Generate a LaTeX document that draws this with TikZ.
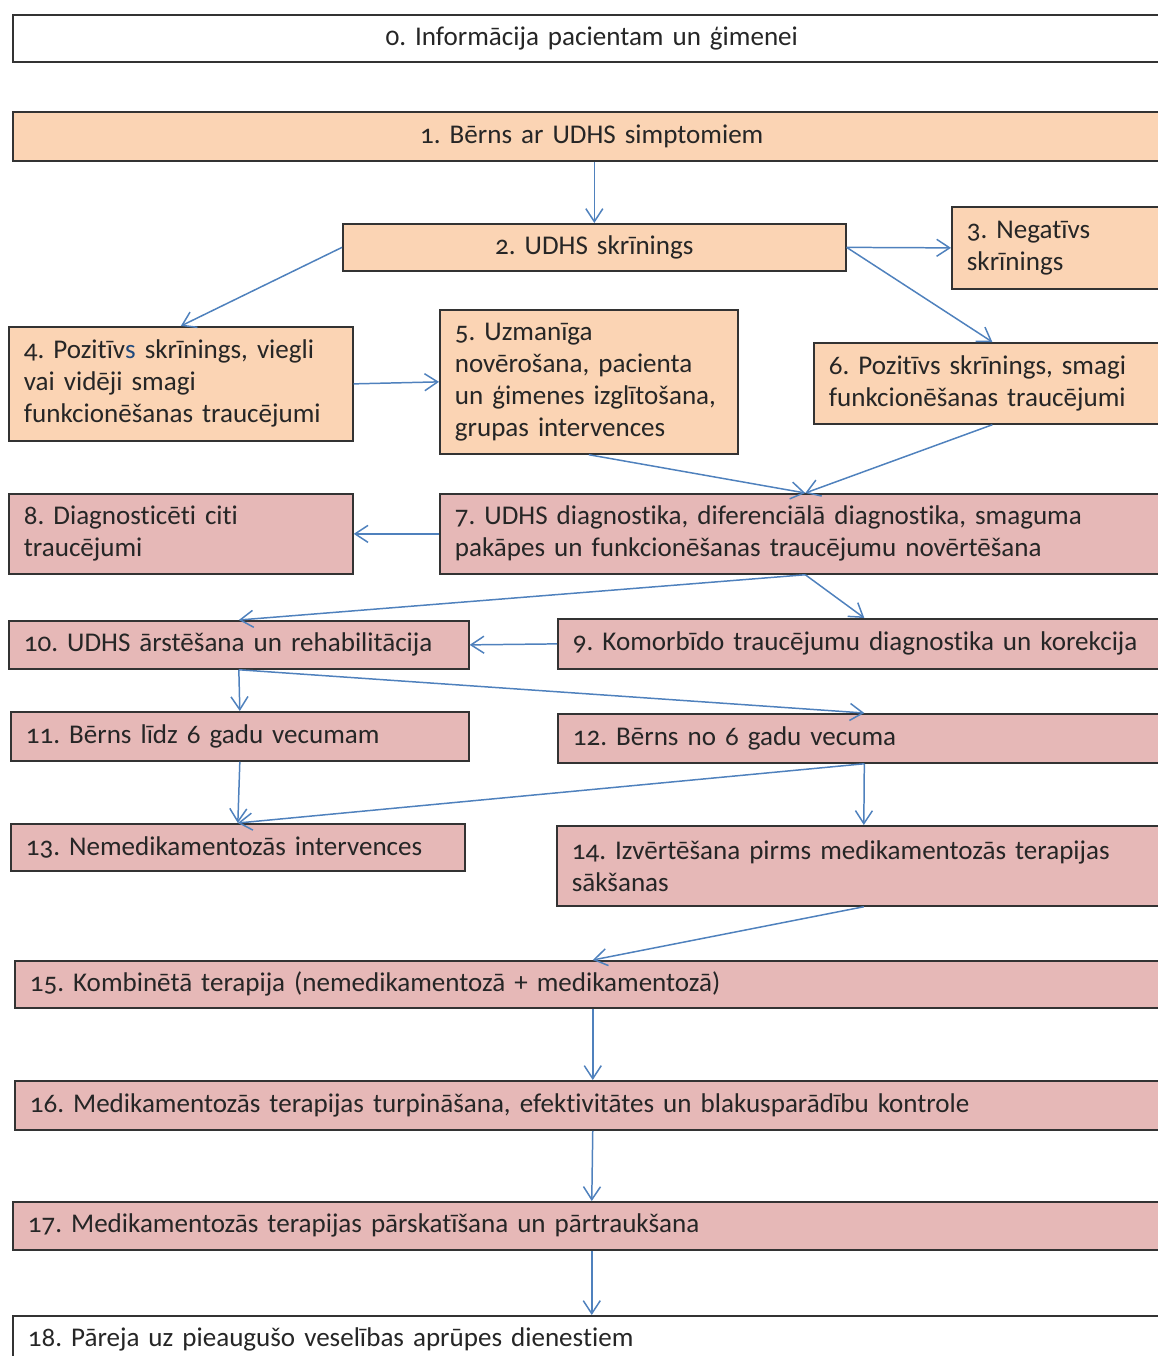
\documentclass[tikz,border=0pt]{standalone}
\usepackage{fontspec}
\setmainfont{Carlito}[Numbers=OldStyle,Ligatures=NoCommon]
\usetikzlibrary{arrows.meta}
\definecolor{peach}{HTML}{FBD4B4}
\definecolor{rose}{HTML}{E6B8B7}
\definecolor{arrblue}{HTML}{4F81BD}
\definecolor{inkblue}{HTML}{1F497D}
\frenchspacing

\begin{document}
\begin{tikzpicture}[x=0.02cm,y=-0.02cm,
  box/.style={draw=black!80,line width=1pt,anchor=north west,inner xsep=0.3cm,inner ysep=0pt,
    font=\fontsize{15.4}{18.2}\selectfont,text=black!85},
  lbox/.style={box,align=left},
  cbox/.style={box,align=center},
  conn/.style={draw=arrblue,line width=0.85pt,-{Straight Barb[length=0.26cm,width=0.34cm]}}]
\clip (0,0) rectangle (1158,1356);

\node[cbox,fill=white,text width=22.56cm,minimum height=0.94cm] (b0) at (12,14) {0. Informācija pacientam un ģimenei};
\node[cbox,fill=peach,text width=22.56cm,minimum height=0.98cm] (b1) at (12,111) {1. Bērns ar UDHS simptomiem};
\node[cbox,fill=peach,text width=9.46cm,minimum height=0.94cm] (b2) at (342,223) {2. UDHS skrīnings};
\node[lbox,fill=peach,text width=3.78cm,minimum height=1.64cm] (b3) at (951,206) {3. Negatīvs\\skrīnings};
\node[lbox,fill=peach,text width=6.28cm,minimum height=2.28cm] (b4) at (8,326) {4. Pozitīv\textcolor{inkblue}{s} skrīnings, viegli\\vai vidēji smagi\\funkcionēšanas traucējumi};
\node[lbox,fill=peach,text width=5.36cm,minimum height=2.88cm] (b5) at (439,309) {5. Uzmanīga\\novērošana, pacienta\\un ģimenes izglītošana,\\grupas intervences};
\node[lbox,fill=peach,text width=6.54cm,minimum height=1.62cm] (b6) at (813,342) {6. Pozitīvs skrīnings, smagi\\funkcionēšanas traucējumi};
\node[lbox,fill=rose,text width=14.02cm,minimum height=1.6cm] (b7) at (439,493) {7. UDHS diagnostika, diferenciālā diagnostika, smaguma\\pakāpes un funkcionēšanas traucējumu novērtēšana};
\node[lbox,fill=rose,text width=6.28cm,minimum height=1.6cm] (b8) at (8,493) {8. Diagnosticēti citi\\traucējumi};
\node[lbox,fill=rose,text width=11.66cm,minimum height=1.0cm] (b9) at (557,618) {9. Komorbīdo traucējumu diagnostika un korekcija};
\node[lbox,fill=rose,text width=8.6cm,minimum height=0.96cm] (b10) at (8,620) {10. UDHS ārstēšana un rehabilitācija};
\node[lbox,fill=rose,text width=8.56cm,minimum height=0.98cm] (b11) at (10,711) {11. Bērns līdz 6 gadu vecumam};
\node[lbox,fill=rose,text width=11.66cm,minimum height=0.98cm] (b12) at (557,713) {12. Bērns no 6 gadu vecuma};
\node[lbox,fill=rose,text width=8.48cm,minimum height=0.94cm] (b13) at (10,823) {13. Nemedikamentozās intervences};
\node[lbox,fill=rose,text width=11.68cm,minimum height=1.6cm] (b14) at (556,825) {14. Izvērtēšana pirms medikamentozās terapijas\\sākšanas};
\node[lbox,fill=rose,text width=22.52cm,minimum height=0.94cm] (b15) at (14,960) {15. Kombinētā terapija (nemedikamentozā + medikamentozā)};
\node[lbox,fill=rose,text width=22.52cm,minimum height=0.98cm] (b16) at (14,1080) {16. Medikamentozās terapijas turpināšana, efektivitātes un blakusparādību kontrole};
\node[lbox,fill=rose,text width=22.56cm,minimum height=0.96cm] (b17) at (12,1201) {17. Medikamentozās terapijas pārskatīšana un pārtraukšana};
\node[lbox,fill=white,text width=22.56cm,minimum height=0.94cm] (b18) at (12,1315) {18. Pāreja uz pieaugušo veselības aprūpes dienestiem};

\draw[conn] (b2.north |- b1.south) -- (b2.north);
\draw[conn] (b2.east) -- (b3.west);
\draw[conn] (b2.east) -- (b6.north);
\draw[conn] (b2.west) -- (b4.north);
\draw[conn] (b4.east) -- (b5.west);
\draw[conn] (b5.south) -- (b7.north);
\draw[conn] (b6.south) -- (b7.north);
\draw[conn] (b7.west) -- (b8.east);
\draw[conn] (b7.south) -- (b10.north);
\draw[conn] (b7.south) -- (b9.north);
\draw[conn] (b9.west) -- (b10.east);
\draw[conn] (b10.south) -- (b11.north);
\draw[conn] (b10.south) -- (b12.north);
\draw[conn] (b11.south) -- (b13.north);
\draw[conn] (b12.south) -- (b13.north);
\draw[conn] (b12.south) -- (b14.north);
\draw[conn] (b14.south) -- (b15.north);
\draw[conn] (b15.south) -- (b16.north);
\draw[conn] (b16.south) -- (b17.north);
\draw[conn] (b17.south) -- (b18.north);
\end{tikzpicture}
\end{document}
